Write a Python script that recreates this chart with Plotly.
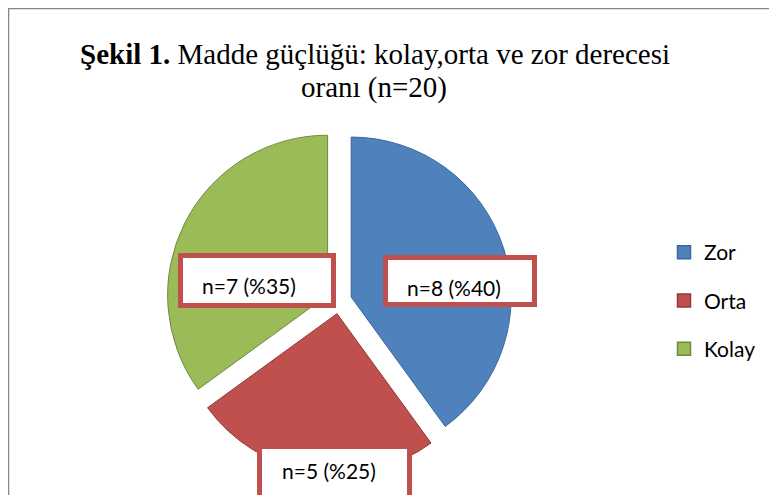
import plotly.graph_objects as go

# ---- data ----
categories = ["Zor", "Orta", "Kolay"]
counts = [8, 5, 7]
percents = [40, 25, 35]

fills = ["#4f81bd", "#c0504d", "#9bbb59"]
edges = ["#3b679c", "#8e3a37", "#71893f"]

# page has an 8px body margin; size the figure to fill the rest of the window
OFF = 8
W, H = 777 - OFF, 495 - OFF

def px(x):  # screen x -> paper fraction
    return (x - OFF) / W

def py(y):  # screen y -> paper fraction
    return 1 - (y - OFF) / H

fig = go.Figure()

# pie geometry (screen px): center (339,301), radius 160, pull 0.08
cx, cy, r, pull = 339, 301, 160, 0.08
half = r * (1 + pull)
fig.add_trace(go.Pie(
    labels=categories,
    values=counts,
    sort=False,
    direction="clockwise",
    rotation=0,
    pull=[pull] * 3,
    marker=dict(colors=fills, line=dict(color=edges, width=1)),
    textinfo="none",
    hoverinfo="label+value+percent",
    showlegend=False,
    domain=dict(x=[px(cx - half), px(cx + half)], y=[py(cy + half), py(cy - half)]),
))

# legend entries (dummy traces for spacing control)
for i, c in enumerate(categories):
    fig.add_trace(go.Scatter(
        x=[None], y=[None], mode="markers", name=c,
        legendgroup=c,
        marker=dict(symbol="square", size=13, color=fills[i],
                    line=dict(color=edges[i], width=1.5)),
    ))

# data label boxes (screen px): box center x, y, inner w, h, text center x, y
label_boxes = [
    (460, 281, 144, 42, 454, 287),   # Zor
    (334.5, 484, 145, 70, 329, 470),  # Orta (box runs past the bottom edge)
    (257, 280.5, 148, 45, 249, 285),   # Kolay
]
label_font = dict(family="Lato, 'Open Sans', sans-serif", size=21, color="#000000")
annotations = []
for i, c in enumerate(categories):
    bx, by, bw, bh, tx, ty = label_boxes[i]
    annotations.append(dict(
        x=px(bx), y=py(by), xref="paper", yref="paper",
        xanchor="center", yanchor="middle",
        text="\u00a0", showarrow=False, font=label_font,
        bgcolor="#ffffff", bordercolor="#c0504d", borderwidth=5, borderpad=0,
        width=bw, height=bh,
    ))
    annotations.append(dict(
        x=px(tx), y=py(ty), xref="paper", yref="paper",
        xanchor="center", yanchor="middle",
        text=f"n={counts[i]} (%{percents[i]})",
        showarrow=False, font=label_font, borderpad=0,
    ))

title_font = dict(family="'Liberation Serif', 'Times New Roman', serif", size=29, color="#000000")
annotations.append(dict(
    x=px(375), y=py(37), xref="paper", yref="paper",
    xanchor="center", yanchor="top", showarrow=False,
    text="<b>Şekil 1.</b> Madde güçlüğü: kolay,orta ve zor derecesi",
    font=title_font, borderpad=0,
))
annotations.append(dict(
    x=px(374), y=py(70), xref="paper", yref="paper",
    xanchor="center", yanchor="top", showarrow=False,
    text="oranı (n=20)",
    font=title_font, borderpad=0,
))

fig.update_layout(
    width=W, height=H,
    margin=dict(l=0, r=0, t=0, b=0, autoexpand=False),
    paper_bgcolor="#ffffff", plot_bgcolor="#ffffff",
    xaxis=dict(visible=False), yaxis=dict(visible=False),
    showlegend=True,
    legend=dict(
        x=px(664), y=py(232), xanchor="left", yanchor="top",
        font=dict(family="Lato, 'Open Sans', sans-serif", size=21, color="#000000"),
        tracegroupgap=18, bgcolor="rgba(0,0,0,0)",
    ),
    annotations=annotations,
    shapes=[dict(type="rect", xref="paper", yref="paper",
                 x0=px(8.5), y0=-0.2, x1=1.2, y1=py(8.5),
                 line=dict(color="#868686", width=1.5), layer="below")],
)

fig.write_html("out.html")
